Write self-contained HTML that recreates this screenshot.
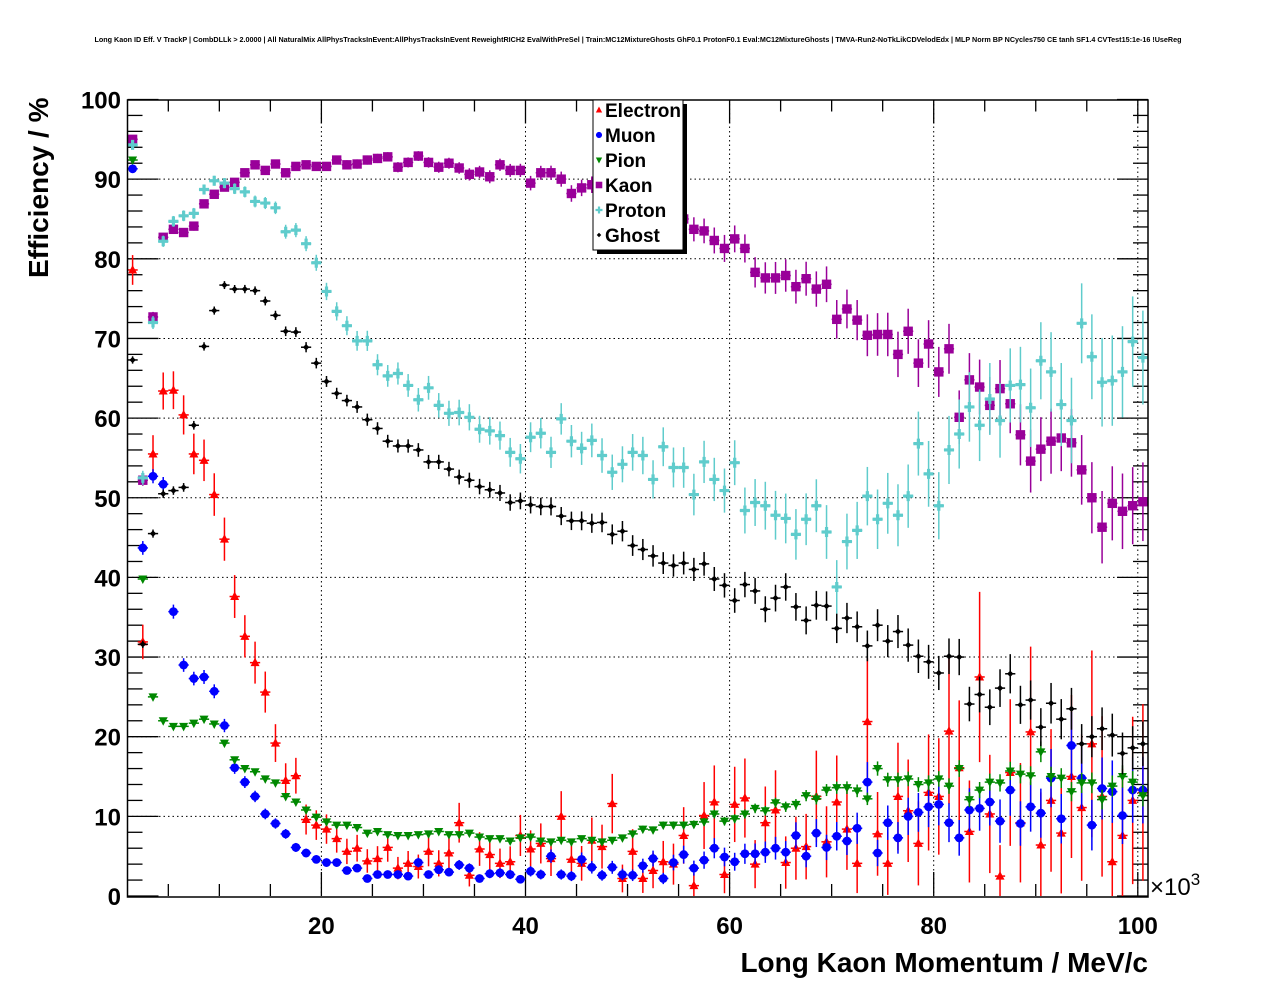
<!DOCTYPE html>
<html><head><meta charset="utf-8"><title>Long Kaon ID Efficiency</title>
<style>
html,body{margin:0;padding:0;background:#fff;}
svg{display:block;font-family:"Liberation Sans",Arial,sans-serif;}
</style></head>
<body>
<svg id="chart" width="1276" height="996" viewBox="0 0 1276 996" xmlns="http://www.w3.org/2000/svg">
<rect x="0" y="0" width="1276" height="996" fill="#fff"/>
<text x="638" y="42" font-size="7.2" font-weight="bold" text-anchor="middle">Long Kaon ID Eff. V TrackP | CombDLLk &gt; 2.0000 | All NaturalMix AllPhysTracksInEvent:AllPhysTracksInEvent ReweightRICH2 EvalWithPreSel | Train:MC12MixtureGhosts GhF0.1 ProtonF0.1 Eval:MC12MixtureGhosts | TMVA-Run2-NoTkLikCDVelodEdx | MLP Norm BP NCycles750 CE tanh SF1.4 CVTest15:1e-16 !UseReg</text>
<g id="grid"></g>
<g id="axes"></g>
<g id="series"></g>
<rect x="127.5" y="100" width="1020.5" height="797" fill="none" stroke="#000" stroke-width="1.5"/>
<text transform="translate(48,278) rotate(-90)" font-size="28" font-weight="bold">Efficiency / %</text>
<text x="1148" y="972" font-size="28" font-weight="bold" text-anchor="end">Long Kaon Momentum / MeV/c</text>
<text x="1150" y="895" font-size="24">×10<tspan font-size="17" dy="-10">3</tspan></text>
<g id="legend">
  <rect x="597" y="104" width="90" height="150" fill="#000"/>
  <rect x="593" y="100" width="90" height="150" fill="#fff" stroke="#000" stroke-width="1"/>
</g>
</svg>
<script>
const categories = [];
for (let k = 1; k <= 100; k++) categories.push(k + 0.5);
const xTicks = [20, 40, 60, 80, 100];
const yTicks = [0, 10, 20, 30, 40, 50, 60, 70, 80, 90, 100];
const seriesNames = ["Electron", "Muon", "Pion", "Kaon", "Proton", "Ghost"];
const electron = [78.6,31.9,55.5,63.4,63.5,60.4,55.5,54.7,50.4,44.8,37.6,32.6,29.3,25.6,19.2,14.5,15.1,9.6,8.9,8.4,7.2,5.6,6.0,4.4,4.7,6.1,3.5,4.1,3.7,5.6,4.1,5.4,9.2,2.6,5.9,5.2,4.1,4.3,7.6,5.9,6.6,4.7,10.0,4.6,4.1,7.0,6.2,11.6,2.2,5.6,2.2,3.2,4.3,4.0,7.6,1.3,10.1,11.8,2.7,11.5,12.3,4.0,9.2,10.8,4.2,6.0,6.2,12.5,6.8,11.8,8.4,4.1,21.9,7.8,4.1,12.5,10.7,6.6,13.0,12.5,20.7,16.1,8.1,27.5,10.3,2.5,15.5,9.2,20.6,6.4,12.0,7.9,15.0,11.1,19.1,12.5,4.3,7.6,12.0,13.0];
const muon = [91.3,43.7,52.7,51.7,35.7,29.0,27.3,27.5,25.7,21.4,16.1,14.3,12.5,10.3,9.1,7.8,6.1,5.4,4.6,4.2,4.2,3.2,3.5,2.2,2.7,2.7,2.7,2.5,4.2,2.7,3.3,3.0,3.9,3.5,2.2,2.8,2.9,2.7,2.1,3.1,2.7,5.0,2.7,2.5,4.6,3.6,2.6,3.6,2.7,2.6,3.8,4.7,2.2,4.2,5.2,3.5,4.5,6.0,4.9,4.3,5.3,5.3,5.5,6.0,5.5,7.6,5.0,7.9,6.1,7.5,6.9,8.5,14.3,5.4,9.2,7.3,10.0,10.5,11.2,11.5,9.2,7.3,10.8,11.0,11.8,9.4,13.3,9.1,11.2,10.4,14.8,9.7,18.9,14.8,8.9,13.5,13.1,10.1,13.3,13.3];
const pion = [92.4,39.8,25.0,22.0,21.3,21.3,21.7,22.2,21.6,19.2,17.1,16.0,15.6,14.7,14.2,12.5,11.8,10.8,9.9,9.3,8.9,8.9,8.6,7.9,8.1,7.7,7.6,7.6,7.7,7.8,8.1,7.7,7.7,7.9,7.4,7.2,7.2,6.9,7.3,7.4,6.9,6.8,7.0,6.8,7.2,7.0,6.8,7.0,7.3,7.8,8.4,8.3,8.9,8.9,8.9,9.0,9.3,10.3,9.4,9.7,10.3,11.0,10.7,11.7,11.2,11.5,12.6,12.2,13.3,13.6,13.6,13.2,12.2,16.0,14.6,14.6,14.7,14.0,14.2,14.7,13.8,16.0,12.1,13.3,14.3,14.2,15.7,15.3,15.1,18.1,15.0,14.8,13.1,14.2,14.2,12.1,13.8,15.0,14.3,12.6];
const kaon = [95.0,52.2,72.7,82.7,83.7,83.3,84.1,86.9,88.1,89.0,89.6,90.8,91.8,91.1,91.9,90.8,91.6,91.8,91.6,91.6,92.4,91.8,91.9,92.4,92.6,92.8,91.5,92.1,92.9,92.1,91.5,92.0,91.4,90.6,90.9,90.3,91.8,91.1,91.1,89.5,90.8,90.8,90.0,88.2,88.9,89.3,89.3,89.0,88.5,88.0,87.5,87.0,86.5,86.0,85.0,83.7,83.5,82.3,81.3,82.5,81.3,78.3,77.6,77.6,77.9,76.5,77.5,76.2,76.8,72.4,73.7,72.3,70.4,70.5,70.5,68.0,70.9,66.9,69.3,65.8,68.7,60.1,64.8,63.9,61.6,63.7,61.8,57.9,54.6,56.1,57.1,57.5,56.9,53.5,50.0,46.3,49.3,48.3,49.0,49.5];
const proton = [94.3,52.5,72.0,82.2,84.7,85.4,85.7,88.7,89.8,89.5,88.8,88.4,87.2,87.0,86.4,83.4,83.6,81.9,79.5,75.9,73.4,71.6,69.7,69.7,66.7,65.3,65.6,64.1,62.3,63.8,61.6,60.6,60.7,60.1,58.6,58.4,57.8,55.7,54.9,57.6,58.1,55.7,59.9,57.1,56.2,57.2,55.3,53.2,54.2,55.7,55.3,52.3,56.4,53.8,53.8,50.4,54.5,52.3,50.9,54.4,48.4,49.4,49.0,47.8,47.4,45.4,47.3,49.0,45.7,38.8,44.5,45.9,50.2,47.3,49.3,47.8,50.2,56.8,53.0,49.0,56.0,58.0,61.4,59.1,62.4,59.7,64.1,64.2,61.3,67.2,65.8,61.7,59.7,71.9,67.7,64.5,64.7,65.8,69.6,67.6];
const ghost = [67.3,31.6,45.5,50.5,50.9,51.3,59.1,69.0,73.5,76.7,76.2,76.2,76.0,74.7,72.9,70.9,70.8,68.9,66.9,64.6,63.1,62.2,61.4,59.8,58.7,57.1,56.5,56.5,56.0,54.5,54.5,53.6,52.6,52.2,51.4,51.0,50.6,49.4,49.6,49.1,48.9,48.9,47.7,47.1,47.1,46.8,46.9,45.4,45.8,44.0,43.5,42.7,41.8,41.5,41.8,41.0,41.7,39.8,39.0,37.1,39.1,38.3,36.0,37.4,38.8,36.3,34.6,36.5,36.4,33.6,34.9,33.8,31.4,34.0,32.0,33.2,31.5,30.1,29.4,28.0,30.1,30.0,24.1,25.3,23.7,26.1,27.9,24.0,24.6,21.2,24.2,22.2,23.5,19.1,20.0,21.0,20.2,17.9,18.6,19.1];

const X0 = 127.5, X1 = 1148, XMIN = 1, XMAX = 101;
const Y0 = 896, Y1 = 99.5, YMIN = 0, YMAX = 100;
function xs(v){ return X0 + (v - XMIN) / (XMAX - XMIN) * (X1 - X0); }
function ys(v){ return Y0 - (v - YMIN) / (YMAX - YMIN) * (Y0 - Y1); }
const NS = "http://www.w3.org/2000/svg";
function mk(tag, attrs, parent){
  const e = document.createElementNS(NS, tag);
  for (const k in attrs) e.setAttribute(k, attrs[k]);
  parent.appendChild(e);
  return e;
}
const grid = document.getElementById('grid');
const axes = document.getElementById('axes');
const series = document.getElementById('series');

xTicks.forEach(t => {
  const l = mk('line', {x1: xs(t), x2: xs(t), y1: Y1, y2: Y0, stroke: '#000', 'stroke-width': 1, 'stroke-dasharray': '1.5,3'}, grid);
  
  
});
yTicks.forEach(t => {
  if (t <= YMIN || t >= YMAX) return;
  const l = mk('line', {x1: X0, x2: X1, y1: ys(t), y2: ys(t), stroke: '#000', 'stroke-width': 1, 'stroke-dasharray': '1.5,3'}, grid);
  
  
});
for (let v = 5; v <= 100; v += 5) {
  const major = xTicks.indexOf(v) >= 0;
  const len = major ? 24 : 12;
  const b = mk('line', {x1: xs(v), x2: xs(v), y1: Y0, y2: Y0 - len, stroke: '#000', 'stroke-width': 1.3}, axes);
  
  
  const t = mk('line', {x1: xs(v), x2: xs(v), y1: Y1, y2: Y1 + len, stroke: '#000', 'stroke-width': 1.3}, axes);
  
  
}
xTicks.forEach(v => {
  const tx = mk('text', {x: xs(v), y: 934, 'font-size': 24, 'font-weight': 'bold', 'text-anchor': 'middle'}, axes);
  tx.textContent = String(v);
  
  
});
for (let v = 0; v <= 100; v += 2) {
  const major = v % 10 === 0;
  const len = major ? 31 : 15;
  const l = mk('line', {x1: X0, x2: X0 + len, y1: ys(v), y2: ys(v), stroke: '#000', 'stroke-width': 1.3}, axes);
  
  
  const r = mk('line', {x1: X1, x2: X1 - len, y1: ys(v), y2: ys(v), stroke: '#000', 'stroke-width': 1.3}, axes);
  
  
}
yTicks.forEach(v => {
  const tx = mk('text', {x: 121, y: ys(v) + 9, 'font-size': 24, 'font-weight': 'bold', 'text-anchor': 'end'}, axes);
  tx.textContent = String(v);
  
  
});

function marker(kind, cx, cy, color, parent){
  let e;
  if (kind === 'tri-up') e = mk('polygon', {points: `${cx},${cy-5} ${cx-4.5},${cy+3.5} ${cx+4.5},${cy+3.5}`, fill: color}, parent);
  else if (kind === 'circle') e = mk('circle', {cx: cx, cy: cy, r: 4.4, fill: color}, parent);
  else if (kind === 'tri-down') e = mk('polygon', {points: `${cx-4.5},${cy-3.5} ${cx+4.5},${cy-3.5} ${cx},${cy+5}`, fill: color}, parent);
  else if (kind === 'square') e = mk('rect', {x: cx-4.7, y: cy-4.7, width: 9.4, height: 9.4, fill: color}, parent);
  else if (kind === 'plus') e = mk('path', {d: `M${cx-1.6},${cy-5}h3.2v3.4h3.4v3.2h-3.4v3.4h-3.2v-3.4h-3.4v-3.2h3.4z`, fill: color}, parent);
  else e = mk('polygon', {points: `${cx},${cy-3.2} ${cx+3.2},${cy} ${cx},${cy+3.2} ${cx-3.2},${cy}`, fill: color}, parent);
  return e;
}
const styles = [
  {data: electron, color: '#ff0000', kind: 'tri-up', n90: 14, name: 'electron'},
  {data: muon, color: '#0000ff', kind: 'circle', n90: 100, name: 'muon'},
  {data: pion, color: '#008800', kind: 'tri-down', n90: 900, name: 'pion'},
  {data: kaon, color: '#990099', kind: 'square', n90: 156, name: 'kaon'},
  {data: proton, color: '#5fcccc', kind: 'plus', n90: 96, name: 'proton'},
  {data: ghost, color: '#000000', kind: 'diamond', n90: 300, name: 'ghost'}
];
styles.forEach(s => {
  const g = mk('g', {}, series);
  
  
  categories.forEach((c, i) => {
    const v = s.data[i];
    if (v === null || v === undefined) return;
    const n = s.n90 * Math.exp((90 - c) / 25);
    const err = Math.sqrt(Math.max(v * (100 - v), 1) / n);
    const cx = xs(c), cy = ys(v);
    const ve = mk('line', {x1: cx, x2: cx, y1: ys(Math.min(v + err, 100)), y2: ys(Math.max(v - err, 0)), stroke: s.color, 'stroke-width': 1.5}, g);
    
    
    const he = mk('line', {x1: xs(c - 0.5), x2: xs(c + 0.5), y1: cy, y2: cy, stroke: s.color, 'stroke-width': 1.5}, g);
    
    
    const m = marker(s.kind, cx, cy, s.color, g);
    
    
  });
});

const legend = document.getElementById('legend');
seriesNames.forEach((nm, i) => {
  const y = 110 + i * 25;
  const ent = mk('g', {}, legend);
  
  
  const m = marker(styles[i].kind, 599, y, styles[i].color, ent);
  m.setAttribute('transform', `translate(${599*0.3},${y*0.3}) scale(0.7)`);
  
  
  const t = mk('text', {x: 605, y: y + 7, 'font-size': 19, 'font-weight': 'bold'}, ent);
  t.textContent = nm;
  
  
});
</script>
</body></html>
